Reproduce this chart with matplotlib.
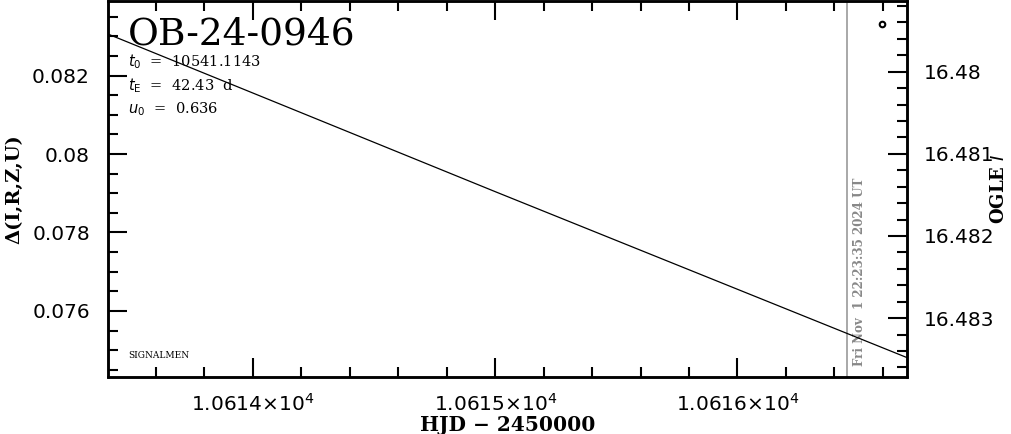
import matplotlib
matplotlib.use("Agg")
import matplotlib.pyplot as plt
import matplotlib.transforms as mtransforms
from matplotlib.ticker import MultipleLocator, FuncFormatter

# model curve (HJD-2450000, OGLE I mag)
model_hjd = [10613.40, 10615.00, 10616.70]
model_mag = [16.47954, 16.48146, 16.48348]

# single data point near the top right
obs_hjd = [10616.598]
obs_mag = [16.47942]

now_hjd = 10616.452
now_label = "Fri Nov  1 22:23:35 2024 UT"

event = "OB-24-0946"
params = [r"$t_0$  =  10541.1143", r"$t_{\rm E}$  =  42.43  d", r"$u_0$  =  0.636"]

plt.rcParams['font.family'] = ['DejaVu Sans']

fig = plt.figure(figsize=(10.11, 4.34), dpi=100)
ax = fig.add_axes([108/1011, 57.5/434, 799/1011, 375.5/434])
ax2 = ax.twinx()

ax.set_xlim(10613.402, 10616.70)
ax.set_ylim(0.07433, 0.0839)
ax2.set_ylim(16.48371, 16.47914)

ax2.plot(model_hjd, model_mag, color='black', lw=0.9)
ax2.plot(obs_hjd, obs_mag, 'o', ms=4, mfc='white', mec='black', mew=1.5)
ax.axvline(now_hjd, color='#999999', lw=1.2)
trans = mtransforms.blended_transform_factory(ax.transData, ax.transAxes)
ax.text(now_hjd + 0.025, 0.028, now_label, transform=trans, rotation=90, color='#888888',
        fontsize=8.6, fontweight='bold', family='DejaVu Serif', ha='left', va='bottom')

ax.xaxis.set_major_locator(MultipleLocator(1.0))
ax.xaxis.set_minor_locator(MultipleLocator(0.2))
ax.xaxis.set_major_formatter(FuncFormatter(lambda v, p: "1.061%d\u00d710$^4$" % int(round(v - 10610))))
ax.yaxis.set_major_locator(MultipleLocator(0.002))
ax.yaxis.set_minor_locator(MultipleLocator(0.0005))
ax.yaxis.set_major_formatter(FuncFormatter(lambda v, p: ("%.3f" % v).rstrip('0')))
ax2.yaxis.set_major_locator(MultipleLocator(0.001))
ax2.yaxis.set_minor_locator(MultipleLocator(0.0002))
ax2.yaxis.set_major_formatter(FuncFormatter(lambda v, p: ("%.3f" % v).rstrip('0')))

ax.tick_params(axis='x', which='both', direction='in', top=True, labelsize=14.5, pad=12)
ax.tick_params(axis='y', which='both', direction='in', right=False, labelsize=14.5, pad=13)
ax2.tick_params(axis='y', which='both', direction='in', labelsize=14.5, pad=12)
for a in (ax, ax2):
    a.tick_params(which='major', length=14, width=1.5)
    a.tick_params(which='minor', length=7, width=1.5)
    for s in a.spines.values():
        s.set_linewidth(1.8)

ax.set_xlabel("HJD \u2212 2450000", family='DejaVu Serif', fontsize=14.5, fontweight='bold', labelpad=0)
ax.set_ylabel("\u0394(I,R,Z,U)", family='DejaVu Serif', fontsize=14, fontweight='bold', labelpad=6)
ax2.set_ylabel(r"OGLE $I$", family='DejaVu Serif', fontsize=13, fontweight='bold', labelpad=-3)

ax.text(0.025, 0.96, event, transform=ax.transAxes, family='DejaVu Serif',
        fontsize=27, va='top', ha='left')
for i, p in enumerate(params):
    ax.text(0.025, 0.8375 - i * 0.0625, p, transform=ax.transAxes, family='DejaVu Serif',
            fontsize=10.5, va='center', ha='left')
ax.text(0.025, 0.057, "SIGNALMEN", transform=ax.transAxes, family='DejaVu Serif',
        fontsize=6.5, va='center', ha='left')

fig.savefig("out.png", dpi=100)
